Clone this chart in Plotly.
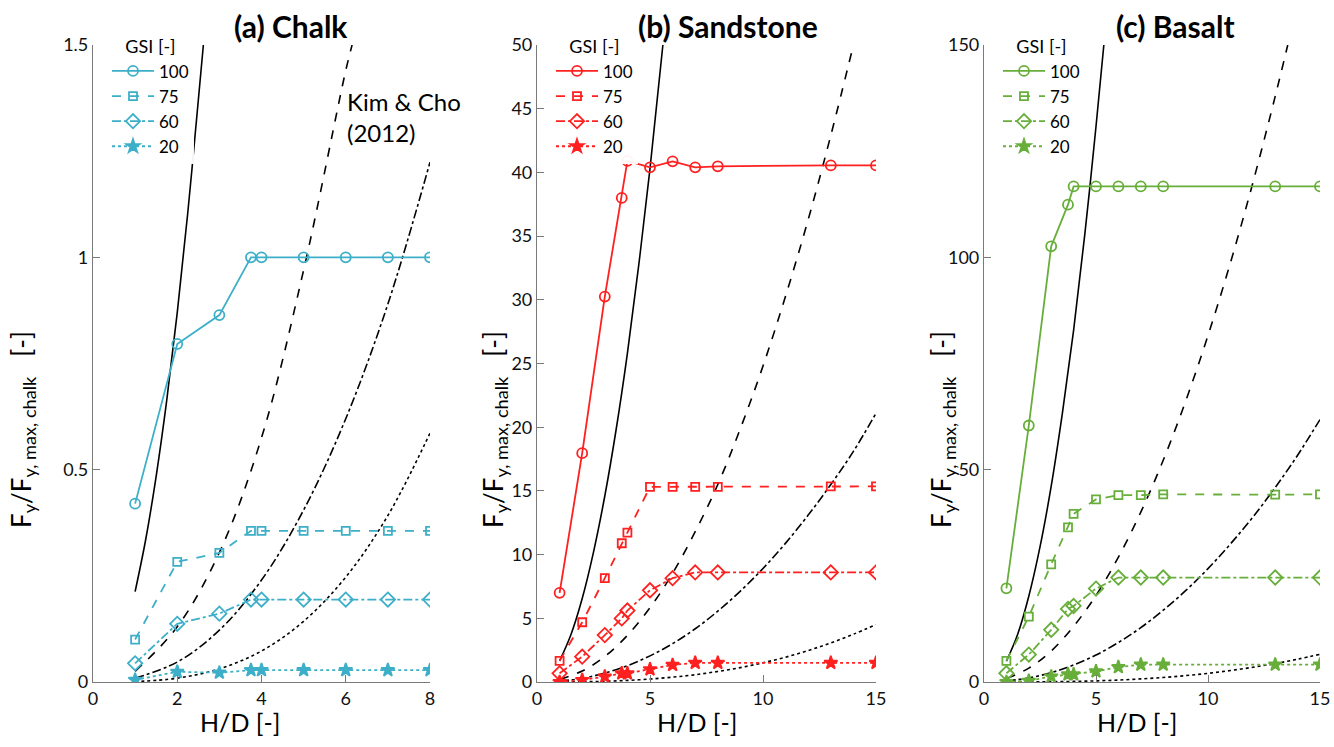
import plotly.graph_objects as go

W, H = 1334, 747

# ---------------- data ----------------
x_chalk = [1, 2, 3, 3.75, 4, 5, 6, 7, 8]
chalk_100 = [0.42, 0.796, 0.864, 1.0, 1.0, 1.0, 1.0, 1.0, 1.0]
chalk_75 = [0.10, 0.283, 0.304, 0.356, 0.356, 0.356, 0.356, 0.356, 0.356]
chalk_60 = [0.044, 0.137, 0.161, 0.194, 0.194, 0.194, 0.194, 0.194, 0.194]
chalk_20 = [0.005, 0.024, 0.022, 0.028, 0.028, 0.028, 0.028, 0.028, 0.028]

x_rock = [1, 2, 3, 3.75, 4, 5, 6, 7, 8, 13, 15]
sand_100 = [7.0, 17.96, 30.25, 38.0, 40.9, 40.4, 40.87, 40.4, 40.48, 40.55, 40.55]
sand_75 = [1.66, 4.69, 8.15, 10.89, 11.73, 15.32, 15.32, 15.32, 15.32, 15.35, 15.35]
sand_60 = [0.68, 1.99, 3.68, 4.99, 5.61, 7.2, 8.15, 8.6, 8.6, 8.6, 8.6]
sand_20 = [0.0, 0.16, 0.42, 0.68, 0.68, 1.0, 1.34, 1.5, 1.5, 1.5, 1.5]

bas_100 = [22.07, 60.4, 102.6, 112.4, 116.7, 116.7, 116.7, 116.7, 116.7, 116.7, 116.7]
bas_75 = [4.98, 15.4, 27.7, 36.4, 39.6, 43.0, 44.0, 44.0, 44.2, 44.1, 44.2]
bas_60 = [2.05, 6.45, 12.3, 17.2, 17.9, 22.0, 24.6, 24.6, 24.6, 24.6, 24.6]
bas_20 = [0.0, 0.3, 1.3, 1.8, 1.8, 2.5, 3.5, 4.1, 4.1, 4.1, 4.1]

# Kim & Cho (2012) reference curves
kc_chalk_solid_x = [1, 1.25, 1.5, 1.75, 2, 2.25, 2.5, 2.62]
kc_chalk_solid_y = [0.213, 0.335, 0.485, 0.663, 0.870, 1.105, 1.37, 1.5]
kc_chalk_dash_x = [1, 2, 3, 4, 5, 6, 6.15]
kc_chalk_dash_y = [0.025, 0.13, 0.305, 0.575, 0.97, 1.44, 1.5]
kc_chalk_dashdot_x = [1, 2, 3, 4, 5, 6, 7, 8]
kc_chalk_dashdot_y = [0.009, 0.047, 0.122, 0.24, 0.405, 0.62, 0.89, 1.224]
kc_chalk_dot_x = [1, 2, 3, 4, 5, 6, 7, 8]
kc_chalk_dot_y = [0.001, 0.009, 0.031, 0.073, 0.143, 0.247, 0.392, 0.586]

kc_sand_solid_x = [1, 1.5, 2, 2.5, 3, 3.5, 4, 4.5, 5, 5.57]
kc_sand_solid_y = [1.66, 3.71, 6.55, 10.2, 14.6, 19.8, 25.8, 32.7, 40.3, 50.0]
kc_sand_dash_x = [1, 2, 3, 4, 5, 6, 7, 8, 9, 10, 11, 12, 13, 14]
kc_sand_dash_y = [0.20, 0.86, 2.0, 3.66, 5.83, 8.53, 11.8, 15.5, 19.9, 24.8, 30.3, 36.3, 42.9, 50.0]
kc_sand_dashdot_x = [1, 2, 3, 4, 5, 6, 7, 8, 9, 10, 11, 12, 13, 14, 15]
kc_sand_dashdot_y = [0.068, 0.29, 0.70, 1.28, 2.05, 3.01, 4.18, 5.56, 7.14, 8.91, 10.9, 13.1, 15.5, 18.1, 21.1]
kc_sand_dot_x = [1, 2, 3, 4, 5, 6, 7, 8, 9, 10, 11, 12, 13, 14, 15]
kc_sand_dot_y = [0.003, 0.019, 0.058, 0.126, 0.23, 0.38, 0.57, 0.83, 1.13, 1.51, 1.95, 2.47, 3.07, 3.75, 4.5]

kc_bas_solid_x = [1, 1.5, 2, 2.5, 3, 3.5, 4, 4.5, 5, 5.35]
kc_bas_solid_y = [4.9, 11.2, 20.2, 31.8, 46.1, 63.3, 82.8, 105.4, 130.8, 150.0]
kc_bas_dash_x = [1, 2, 3, 4, 5, 6, 7, 8, 9, 10, 11, 12, 13, 13.56]
kc_bas_dash_y = [0.82, 3.26, 7.3, 13.1, 20.4, 29.4, 40.0, 52.2, 66.1, 81.6, 98.7, 117.5, 137.9, 150.0]
kc_bas_dashdot_x = [1, 2, 3, 4, 5, 6, 7, 8, 9, 10, 11, 12, 13, 14, 15]
kc_bas_dashdot_y = [0.23, 0.95, 2.2, 4.0, 6.35, 9.3, 12.8, 16.9, 21.5, 26.7, 32.5, 38.8, 45.8, 53.4, 61.8]
kc_bas_dot_x = [1, 2, 3, 4, 5, 6, 7, 8, 9, 10, 11, 12, 13, 14, 15]
kc_bas_dot_y = [0.003, 0.019, 0.062, 0.14, 0.27, 0.46, 0.73, 1.07, 1.5, 2.04, 2.7, 3.47, 4.35, 5.37, 6.53]

gsi_labels = ["100", "75", "60", "20"]
panel_titles = ["(a) Chalk", "(b) Sandstone", "(c) Basalt"]
x_ticks = [[0, 2, 4, 6, 8], [0, 5, 10, 15], [0, 5, 10, 15]]
y_ticks = [[0, 0.5, 1, 1.5], [0, 5, 10, 15, 20, 25, 30, 35, 40, 45, 50], [0, 50, 100, 150]]
y_tick_text = [["0", "0.5", "1", "1.5"], [str(v) for v in y_ticks[1]], [str(v) for v in y_ticks[2]]]
x_ranges = [[0, 8], [0, 15], [0, 15]]
y_ranges = [[0, 1.5], [0, 50], [0, 150]]

colors = ["#3DAFC8", "#FF2020", "#67AE3A"]

# ---------------- figure ----------------
FONT = "Lato, 'Open Sans', sans-serif"

def px(x):
    return x / W

def py(y):
    return 1 - y / H

fig = go.Figure()

panels = [
    (x_chalk, [chalk_100, chalk_75, chalk_60, chalk_20],
     [(kc_chalk_solid_x, kc_chalk_solid_y), (kc_chalk_dash_x, kc_chalk_dash_y),
      (kc_chalk_dashdot_x, kc_chalk_dashdot_y), (kc_chalk_dot_x, kc_chalk_dot_y)]),
    (x_rock, [sand_100, sand_75, sand_60, sand_20],
     [(kc_sand_solid_x, kc_sand_solid_y), (kc_sand_dash_x, kc_sand_dash_y),
      (kc_sand_dashdot_x, kc_sand_dashdot_y), (kc_sand_dot_x, kc_sand_dot_y)]),
    (x_rock, [bas_100, bas_75, bas_60, bas_20],
     [(kc_bas_solid_x, kc_bas_solid_y), (kc_bas_dash_x, kc_bas_dash_y),
      (kc_bas_dashdot_x, kc_bas_dashdot_y), (kc_bas_dot_x, kc_bas_dot_y)]),
]

dashes = ["solid", "dash", "dashdot", "dot"]
symbols = ["circle-open", "square-open", "diamond-open", "star"]
msizes = [10, 8, 11, 10]
legend_names = ["legend", "legend2", "legend3"]

for i, (xv, series, kc) in enumerate(panels):
    xa = "x" if i == 0 else f"x{i+1}"
    ya = "y" if i == 0 else f"y{i+1}"
    for (kx, ky), d in zip(kc, dashes):
        fig.add_trace(go.Scatter(x=kx, y=ky, mode="lines", xaxis=xa, yaxis=ya,
                                 line=dict(color="black", width=1.6, dash=d, shape="spline"),
                                 showlegend=False, hoverinfo="skip"))
    for j, (yv, d, s, ms) in enumerate(zip(series, dashes, symbols, msizes)):
        fig.add_trace(go.Scatter(x=xv, y=yv, mode="lines+markers", xaxis=xa, yaxis=ya,
                                 name=gsi_labels[j], legend=legend_names[i],
                                 line=dict(color=colors[i], width=1.8, dash=d),
                                 marker=dict(symbol=s, size=ms, color=colors[i],
                                             line=dict(width=1.8, color=colors[i]))))

x_dom = [(93, 430), (537, 876), (984, 1320)]
y_dom = [py(682), py(45)]

axis_common = dict(showline=True, linecolor="#7a7a7a", linewidth=1.2, ticks="inside",
                   ticklen=7, tickcolor="#7a7a7a", showgrid=False, zeroline=False,
                   tickfont=dict(family=FONT, size=18, color="#111"), mirror=False)

layout = dict(width=W, height=H, margin=dict(l=0, r=0, t=0, b=0, autoexpand=False),
              paper_bgcolor="white", plot_bgcolor="white",
              font=dict(family=FONT, color="black"))

for i in range(3):
    xk = "xaxis" if i == 0 else f"xaxis{i+1}"
    yk = "yaxis" if i == 0 else f"yaxis{i+1}"
    xa = "x" if i == 0 else f"x{i+1}"
    ya = "y" if i == 0 else f"y{i+1}"
    layout[xk] = dict(domain=[px(x_dom[i][0]), px(x_dom[i][1])], range=x_ranges[i],
                      tickvals=x_ticks[i], anchor=ya, **axis_common)
    layout[yk] = dict(domain=y_dom, range=y_ranges[i], tickvals=y_ticks[i],
                      ticktext=y_tick_text[i], anchor=xa, **axis_common)
    leg = dict(x=px(x_dom[i][0] + 14), y=py(30), xanchor="left", yanchor="top",
               bgcolor="rgba(255,255,255,0.95)", borderwidth=0,
               font=dict(family=FONT, size=17, color="black"),
               title=dict(text="GSI [-]", font=dict(family=FONT, size=18), side="top center"),
               itemwidth=42, tracegroupgap=0)
    layout[legend_names[i]] = leg

fig.update_layout(**layout)

ann = []
title_x = [291, 728, 1175]
for t, tx in zip(panel_titles, title_x):
    ann.append(dict(text=f"<b>{t}</b>", x=px(tx), y=py(26), xref="paper", yref="paper",
                    showarrow=False, font=dict(family=FONT, size=30, color="black"),
                    xanchor="center", yanchor="middle"))
xt_x = [240, 697, 1137]
for tx in xt_x:
    ann.append(dict(text="H/D [-]", x=px(tx), y=py(722), xref="paper", yref="paper",
                    showarrow=False, font=dict(family=FONT, size=25, color="black"),
                    xanchor="center", yanchor="middle"))
yt_x = [22, 494, 942]
for tx in yt_x:
    ann.append(dict(text="F<sub>y</sub>/F<sub>y, max, chalk</sub>   [-]", x=px(tx), y=py(430),
                    xref="paper", yref="paper", textangle=-90, showarrow=False,
                    font=dict(family=FONT, size=26, color="black"),
                    xanchor="center", yanchor="middle"))
ann.append(dict(text="Kim & Cho<br>(2012)", x=px(345), y=py(117), xref="paper", yref="paper",
                showarrow=False, align="left", xanchor="left", yanchor="middle",
                font=dict(family=FONT, size=24, color="black")))
fig.update_layout(annotations=ann)

fig.write_html("out.html", config={"displayModeBar": False},
               post_script="document.body.style.margin='0px';document.body.style.overflow='hidden';")
